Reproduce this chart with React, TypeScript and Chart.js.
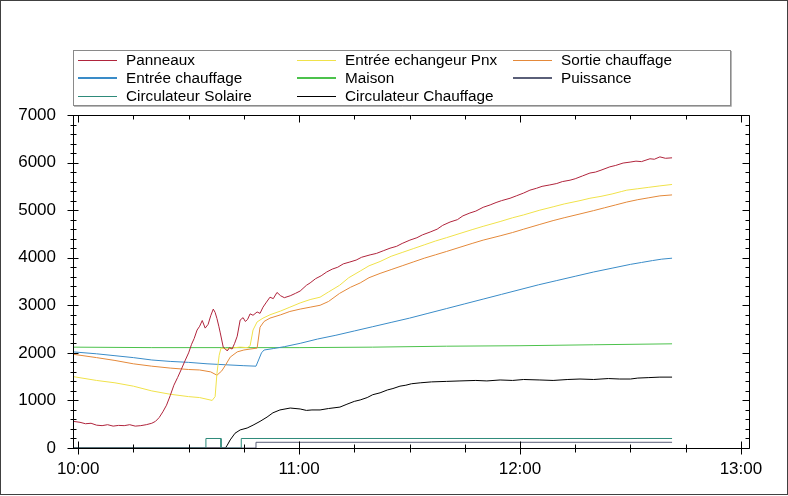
import React, { useEffect, useRef } from "react";
import { Chart, registerables } from "chart.js";

Chart.register(...registerables);

// ---- Series names / styles (legend order) ----
const seriesNames = [
  "Panneaux",
  "Entrée echangeur Pnx",
  "Sortie chauffage",
  "Entrée chauffage",
  "Maison",
  "Puissance",
  "Circulateur Solaire",
  "Circulateur Chauffage",
];
const seriesColors = [
  "#b0243c",
  "#f0e24a",
  "#e4893a",
  "#3a8cc8",
  "#4cc24c",
  "#5a5f78",
  "#2e8a7a",
  "#000000",
];
const legendWidths = [1, 1, 1, 2, 2, 2, 1, 1];

// ---- Axis ticks ----
const hourTicks = [0, 60, 120, 180]; // minutes after 10:00
const hourLabels = ["10:00", "11:00", "12:00", "13:00"];
const yTicks = [0, 1000, 2000, 3000, 4000, 5000, 6000, 7000];

// ---- Data (time in minutes after 10:00) ----
const panneauxT = [
  -1.3, 0.5, 2, 3.5, 5, 6.5, 8, 9.5, 11, 12.5, 14, 15.5, 17, 18.5, 20, 21, 22, 23, 24, 25,
  26, 27, 28, 29, 30, 30.8, 31.5, 32.3, 33, 33.7, 34.5, 35.3, 36, 36.7, 37.2, 37.7, 38.2, 38.6, 39.4, 40,
  40.5, 41.1, 41.8, 42.5, 43.2, 44, 44.8, 45.4, 46, 46.7, 47.5, 48.6, 49.4, 50.2, 51, 52.1, 53, 54, 55, 56,
  57.6, 59, 60.3, 62, 63, 64.5, 66, 67.5, 69, 70.5, 72, 73.8, 75.5, 77, 79.3, 81, 83, 84.7, 86.5, 88,
  90.1, 92, 93.5, 95.6, 97.5, 99, 101, 103, 104.5, 106.4, 108, 110, 111.9, 113.5, 115, 117.3, 119, 121, 122.7, 124.5,
  126, 128.1, 130, 131.5, 133.6, 135, 137, 139, 140.5, 142, 144.4, 146, 148, 149.9, 151.5, 153, 155.3, 156.5, 158, 159.5,
  161.3,
];
const panneauxV = [
  560, 540, 510, 520, 480, 470, 490, 460, 475, 470, 490, 460, 470, 490, 520, 560, 640, 760, 900, 1100,
  1320, 1480, 1650, 1830, 2000, 2180, 2300, 2480, 2560, 2680, 2520, 2600, 2780, 2920, 2850, 2720, 2560, 2420, 2120, 2080,
  2040, 2110, 2080, 2200, 2350, 2690, 2740, 2660, 2700, 2820, 2790, 2860, 2830, 2960, 3050, 3170, 3140, 3270, 3200, 3160,
  3200, 3250, 3300, 3420, 3470, 3560, 3620, 3700, 3760, 3800, 3870, 3910, 3950, 4010, 4060, 4090, 4150, 4200, 4240, 4300,
  4370, 4420, 4480, 4540, 4600, 4680, 4750, 4800, 4880, 4940, 4980, 5060, 5110, 5160, 5200, 5250, 5300, 5360, 5420, 5460,
  5500, 5530, 5560, 5600, 5630, 5660, 5720, 5780, 5800, 5840, 5910, 5940, 5990, 6010, 6030, 6020, 6080, 6070, 6120, 6090,
  6100,
];

const echangeurT = [
  -1.3, 5, 10, 15, 20, 25, 30, 33, 36.4, 37.2, 37.7, 38.3, 38.8, 40.5, 42.6, 44, 46, 46.7, 47.5, 48.6,
  50.2, 52.1, 55, 57.5, 60.3, 63, 65.7, 68, 71, 73.5, 76.6, 79, 82, 85, 88, 91, 94, 97, 100, 103.7,
  107, 110, 114.6, 118, 121, 125.4, 129, 132, 136.3, 139, 142, 145, 147.5, 149, 152, 155, 158, 161.3,
];
const echangeurV = [
  1500, 1420, 1370, 1300, 1200, 1130, 1080, 1060, 1000, 1080, 1570, 1950, 2100, 2080, 2110, 2120, 2110, 2150, 2480, 2650,
  2730, 2800, 2880, 2960, 3050, 3120, 3170, 3280, 3420, 3580, 3720, 3830, 3920, 4030, 4110, 4190, 4270, 4350, 4420, 4510,
  4590, 4660, 4760, 4840, 4900, 5000, 5070, 5130, 5200, 5250, 5290, 5340, 5390, 5420, 5450, 5480, 5510, 5540,
];

const sortieT = [
  -1.3, 5, 10, 15, 20, 25, 30, 33, 36, 37.7, 39, 40, 41.3, 43.2, 45, 46.7, 48.6, 49.4, 50.5, 52.1,
  55, 57.5, 60.3, 63, 65.7, 68, 71, 74, 76.6, 79, 82, 85, 88, 91, 94, 97, 100, 103.7, 107, 110,
  114.6, 118, 121, 125.4, 129, 132, 136.3, 140, 143, 146, 149, 152, 155, 158, 161.3,
];
const sortieV = [
  1970, 1900, 1840, 1770, 1720, 1680, 1650, 1640, 1600, 1530, 1620, 1740, 1910, 2020, 2060, 2080, 2100, 2540, 2660, 2730,
  2800, 2870, 2920, 2960, 3000, 3080, 3250, 3380, 3470, 3580, 3670, 3750, 3830, 3910, 3990, 4060, 4130, 4220, 4300, 4370,
  4460, 4530, 4600, 4700, 4780, 4840, 4920, 4990, 5050, 5110, 5170, 5220, 5260, 5300, 5320,
];

const entreeChT = [
  -1.3, 5, 10, 15, 20, 25, 30, 35, 40, 45, 48.3, 49, 49.8, 50.5, 53, 56, 60.3, 65, 70, 75,
  80, 85, 90, 95, 100, 105, 110, 115, 120, 125, 130, 135, 140, 145, 150, 153, 156, 158.5, 161.3,
];
const entreeChV = [
  2020, 1980, 1940, 1900, 1850, 1820, 1800, 1770, 1750, 1730, 1720, 1850, 2000, 2060, 2090, 2130, 2200, 2290, 2370, 2460,
  2550, 2640, 2730, 2830, 2930, 3030, 3130, 3230, 3330, 3430, 3520, 3610, 3700, 3780, 3860, 3900, 3940, 3970, 3990,
];

const maisonT = [-1.3, 20, 40, 60, 80, 100, 120, 140, 161.3];
const maisonV = [2120, 2110, 2110, 2110, 2120, 2140, 2150, 2170, 2190];

const puissanceT = [-1.3, 48.3, 48.3, 161.3];
const puissanceV = [0, 0, 120, 120];

const circSolaireT = [-1.3, 34.7, 34.7, 38.8, 38.8, 44.3, 44.3, 161.3];
const circSolaireV = [0, 0, 200, 200, 0, 0, 200, 200];

const circChauffageT = [
  -1.3, 40, 40.5, 41.3, 42.6, 44, 45.9, 47.5, 49.4, 51.3, 52.9, 54.8, 57.6, 60.3, 62, 63.5, 65.7, 68, 71.1, 73,
  75, 76.6, 78.5, 80, 82, 84, 85.5, 87.4, 89, 90.5, 92.9, 96, 100, 103.7, 108, 111, 114.6, 118, 121, 125.4,
  129, 133, 136.3, 140, 144, 147.1, 150, 152, 155, 158, 161.3,
];
const circChauffageV = [
  0, 0, 60, 170, 310, 380, 420, 480, 560, 650, 740, 800, 840, 820, 790, 800, 800, 830, 860, 920,
  980, 1010, 1060, 1120, 1160, 1220, 1250, 1300, 1320, 1350, 1370, 1390, 1400, 1410, 1420, 1410, 1430, 1420, 1440, 1430,
  1420, 1440, 1450, 1440, 1460, 1450, 1450, 1470, 1480, 1490, 1490,
];

const seriesT = [panneauxT, echangeurT, sortieT, entreeChT, maisonT, puissanceT, circSolaireT, circChauffageT];
const seriesV = [panneauxV, echangeurV, sortieV, entreeChV, maisonV, puissanceV, circSolaireV, circChauffageV];

const X_MIN = -1.4;
const X_MAX = 182.2;
const FONT = "'Liberation Sans', Arial, sans-serif";

const framePlugin = {
  id: "frameTicks",
  afterDraw(chart: any) {
    const { ctx, chartArea: a, scales } = chart;
    const xs = scales.x;
    const ys = scales.y;
    const L = Math.round(a.left) + 0.5;
    const R = Math.round(a.right) + 0.5;
    const T = Math.round(a.top) + 0.5;
    const B = Math.round(a.bottom) + 0.5;
    ctx.save();
    ctx.strokeStyle = "#000";
    ctx.lineWidth = 1;
    ctx.beginPath();
    ctx.rect(L, T, R - L, B - T);
    // y ticks
    for (let v = 0; v <= 7000; v += 200) {
      const y = Math.round(ys.getPixelForValue(v)) + 0.5;
      const major = v % 1000 === 0;
      ctx.moveTo(L - (major ? 6 : 3), y);
      ctx.lineTo(L + (major ? 5 : 3), y);
      ctx.moveTo(R - (major ? 7 : 4), y);
      ctx.lineTo(R, y);
    }
    // x ticks
    for (let m = 0; m <= 180; m += 15) {
      const x = Math.round(xs.getPixelForValue(m)) + 0.5;
      const major = m % 60 === 0;
      ctx.moveTo(x, B - (major ? 7 : 4));
      ctx.lineTo(x, B + (major ? 6 : 4));
      ctx.moveTo(x, T);
      ctx.lineTo(x, T + (major ? 7 : 4));
    }
    ctx.stroke();

    // legend box
    ctx.strokeStyle = "#8a8a8a";
    ctx.strokeRect(73.5, 50.5, 657, 55);
    ctx.strokeStyle = "#b8b8b8";
    ctx.beginPath();
    ctx.moveTo(731.5, 51);
    ctx.lineTo(731.5, 106.5);
    ctx.lineTo(74, 106.5);
    ctx.stroke();
    const colLine = [78, 297, 513];
    const rowY = [60, 78, 96];
    ctx.font = "15.3px " + FONT;
    ctx.textBaseline = "middle";
    ctx.textAlign = "left";
    chart.data.datasets.forEach((ds: any, i: number) => {
      const r = Math.floor(i / 3);
      const c = i % 3;
      const y = rowY[r];
      const x0 = colLine[c];
      ctx.strokeStyle = ds.borderColor;
      ctx.lineWidth = legendWidths[i];
      ctx.beginPath();
      const yy = legendWidths[i] % 2 === 1 ? y + 0.5 : y;
      ctx.moveTo(x0, yy);
      ctx.lineTo(x0 + 39, yy);
      ctx.stroke();
      ctx.fillStyle = "#000";
      ctx.fillText(ds.label, x0 + 48, y + 1);
    });

    // outer border
    ctx.strokeStyle = "#404040";
    ctx.lineWidth = 1;
    ctx.strokeRect(0.5, 0.5, 787, 494);
    ctx.restore();
  },
};

export default function App() {
  const ref = useRef<HTMLCanvasElement | null>(null);
  useEffect(() => {
    if (!ref.current) return;
    const datasets = seriesNames.map((name, i) => ({
      label: name,
      data: seriesT[i].map((t, k) => ({ x: t, y: seriesV[i][k] })),
      borderColor: seriesColors[i],
      backgroundColor: seriesColors[i],
      borderWidth: 1,
      pointRadius: 0,
      tension: 0,
      fill: false,
    }));
    const chart = new Chart(ref.current, {
      type: "line",
      data: { datasets },
      options: {
        animation: false,
        responsive: false,
        devicePixelRatio: 1,
        layout: { padding: { top: 115, right: 39, left: 0, bottom: 0 } },
        plugins: { legend: { display: false }, tooltip: { enabled: false } },
        scales: {
          x: {
            type: "linear",
            min: X_MIN,
            max: X_MAX,
            afterBuildTicks: (s: any) => {
              s.ticks = hourTicks.map((v) => ({ value: v }));
            },
            afterFit: (s: any) => {
              s.height = 48;
            },
            ticks: {
              autoSkip: false,
              maxRotation: 0,
              padding: 11,
              color: "#000",
              font: { family: FONT, size: 17 },
              callback: (_v: any, idx: number) => hourLabels[idx],
            },
            grid: { display: false, drawTicks: false },
            border: { display: false },
          },
          y: {
            type: "linear",
            min: 0,
            max: 7000,
            afterBuildTicks: (s: any) => {
              s.ticks = yTicks.map((v) => ({ value: v }));
            },
            afterFit: (s: any) => {
              s.width = 73;
            },
            ticks: {
              padding: 17,
              color: "#000",
              font: { family: FONT, size: 17 },
              callback: (_v: any, idx: number) => String(yTicks[idx]),
            },
            grid: { display: false, drawTicks: false },
            border: { display: false },
          },
        },
      },
      plugins: [framePlugin],
    } as any);
    return () => chart.destroy();
  }, []);
  return (
    <div style={{ position: "absolute", left: 0, top: 0, width: 788, height: 496, background: "#fff" }}>
      <canvas ref={ref} width={788} height={496} style={{ display: "block" }} />
    </div>
  );
}
